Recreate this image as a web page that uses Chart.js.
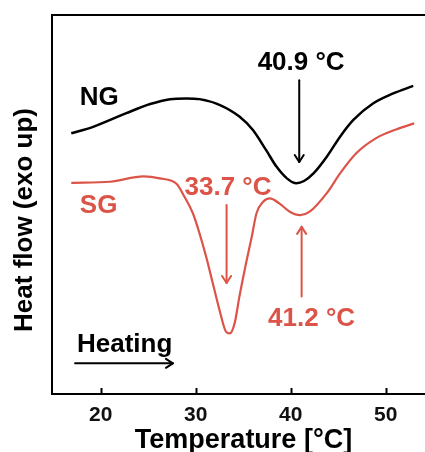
<!DOCTYPE html>
<html>
<head>
<meta charset="utf-8">
<script src="https://cdn.jsdelivr.net/npm/chart.js@4.4.1/dist/chart.umd.min.js"></script>
<style>
  html, body { margin: 0; padding: 0; background: #fff; }
  #wrap { width: 425px; height: 452px; }
</style>
</head>
<body>
<div id="wrap"><canvas id="dsc" width="425" height="452"></canvas></div>
<script>
// DSC heating curves (heat flow in arbitrary units, exo up)
const ngTemp = [16.9, 19.2, 22.7, 25.2, 27.3, 29.0, 30.4, 32.5, 34.6, 36.0, 37.4, 38.5, 39.6, 40.6, 41.4, 42.4, 43.8, 45.2, 46.6, 48.7, 50.8, 52.9];
const ngFlow = [68.8, 70.5, 74.1, 76.5, 77.8, 78.0, 77.8, 76.3, 73.2, 69.7, 64.4, 60.0, 56.9, 55.6, 56.2, 58.2, 62.6, 67.9, 72.3, 76.7, 79.3, 81.3];

const sgTemp = [16.9, 21.0, 24.5, 26.2, 28.0, 28.8, 29.7, 30.4, 31.1, 31.8, 32.5, 33.2, 33.6, 34.1, 34.6, 35.3, 35.9, 36.4, 37.1, 37.8, 38.8, 39.9, 41.0, 42.0, 43.8, 45.2, 46.9, 49.0, 51.1, 53.0];
const sgFlow = [55.7, 56.0, 57.4, 56.9, 55.4, 52.1, 47.7, 42.4, 36.2, 29.2, 22.2, 16.4, 16.0, 18.7, 25.7, 34.5, 41.5, 47.7, 50.7, 51.6, 50.3, 48.1, 47.2, 48.1, 53.0, 58.2, 63.5, 67.5, 69.8, 71.4];

const xTicks = [20, 30, 40, 50];
const seriesNames = ['NG', 'SG'];
const peakLabels = ['40.9 °C', '33.7 °C', '41.2 °C'];

const BLACK = '#000';
const RED = 'rgb(220, 84, 72)';
const FONT = '"Liberation Sans", Arial, Helvetica, sans-serif';

function pts(xs, ys) {
    return xs.map((x, i) => ({ x: x, y: ys[i] }));
}

// text and arrows, placed in data units
const notes = [
    { text: seriesNames[0], x: 17.8, y: 76.3, color: BLACK, align: 'left' },
    { text: seriesNames[1], x: 17.8, y: 47.8, color: RED, align: 'left' },
    { text: peakLabels[0], x: 41.1, y: 85.5, color: BLACK, align: 'center' },
    { text: peakLabels[1], x: 33.4, y: 52.5, color: RED, align: 'center' },
    { text: peakLabels[2], x: 42.2, y: 17.9, color: RED, align: 'center' },
    { text: 'Heating', x: 17.5, y: 11.1, color: BLACK, align: 'left' }
];
const arrows = [
    { x1: 40.9, y1: 82.8, x2: 40.9, y2: 61.2, color: BLACK },
    { x1: 33.25, y1: 49.9, x2: 33.25, y2: 29.3, color: RED },
    { x1: 41.15, y1: 25.7, x2: 41.15, y2: 44.1, color: RED },
    { x1: 17.3, y1: 8.1, x2: 27.6, y2: 8.1, color: BLACK }
];

function drawArrow(ctx, ax, ay, bx, by, color) {
    const ang = Math.atan2(by - ay, bx - ax);
    ctx.save();
    ctx.strokeStyle = color;
    ctx.lineWidth = 2;
    ctx.lineCap = 'round';
    ctx.lineJoin = 'round';
    ctx.beginPath();
    ctx.moveTo(ax, ay);
    ctx.lineTo(bx, by);
    ctx.stroke();
    const len = 7, half = 4.5;
    ctx.beginPath();
    ctx.moveTo(bx - len * Math.cos(ang) + half * Math.sin(ang), by - len * Math.sin(ang) - half * Math.cos(ang));
    ctx.lineTo(bx, by);
    ctx.lineTo(bx - len * Math.cos(ang) - half * Math.sin(ang), by - len * Math.sin(ang) + half * Math.cos(ang));
    ctx.stroke();
    ctx.restore();
}

const decor = {
    id: 'decor',
    afterDraw(chart) {
        const ctx = chart.ctx;
        const area = chart.chartArea;
        const xs = chart.scales.x, ys = chart.scales.y;

        ctx.save();
        // top frame line
        ctx.strokeStyle = BLACK;
        ctx.lineWidth = 2;
        ctx.beginPath();
        ctx.moveTo(area.left - 1, area.top);
        ctx.lineTo(area.right, area.top);
        ctx.stroke();

        // inward tick marks
        xTicks.forEach(v => {
            const px = Math.round(xs.getPixelForValue(v)) + 0.5;
            ctx.beginPath();
            ctx.moveTo(px, area.bottom);
            ctx.lineTo(px, area.bottom - 6);
            ctx.stroke();
        });

        // labels
        ctx.font = 'bold 26px ' + FONT;
        ctx.textBaseline = 'alphabetic';
        notes.forEach(n => {
            ctx.fillStyle = n.color;
            ctx.textAlign = n.align;
            ctx.fillText(n.text, xs.getPixelForValue(n.x), ys.getPixelForValue(n.y));
        });

        arrows.forEach(a => drawArrow(ctx,
            xs.getPixelForValue(a.x1), ys.getPixelForValue(a.y1),
            xs.getPixelForValue(a.x2), ys.getPixelForValue(a.y2), a.color));

        // axis titles
        ctx.fillStyle = BLACK;
        ctx.textAlign = 'center';
        ctx.font = 'bold 27px ' + FONT;
        ctx.fillText('Temperature [°C]', 243.5, 448);
        ctx.font = 'bold 26px ' + FONT;
        ctx.translate(32, 220);
        ctx.rotate(-Math.PI / 2);
        ctx.fillText('Heat flow (exo up)', 0, 0);
        ctx.restore();
    }
};

const chart = new Chart(document.getElementById('dsc').getContext('2d'), {
    type: 'line',
    data: {
        datasets: [{
            label: seriesNames[0],
            data: pts(ngTemp, ngFlow),
            borderColor: BLACK,
            borderWidth: 2.5,
            pointRadius: 0,
            cubicInterpolationMode: 'monotone'
        }, {
            label: seriesNames[1],
            data: pts(sgTemp, sgFlow),
            borderColor: RED,
            borderWidth: 2.2,
            pointRadius: 0,
            cubicInterpolationMode: 'monotone'
        }]
    },
    options: {
        responsive: false,
        animation: false,
        devicePixelRatio: 1,
        layout: { padding: { top: 15, right: 0, bottom: 0, left: 0 } },
        plugins: {
            legend: { display: false },
            tooltip: { enabled: false }
        },
        scales: {
            x: {
                type: 'linear',
                min: 14.87,
                max: 54.14,
                afterBuildTicks: s => { s.ticks = xTicks.map(v => ({ value: v })); },
                afterFit: s => { s.height = 58; },
                grid: { display: false, drawTicks: false },
                border: { display: true, color: BLACK, width: 2 },
                ticks: {
                    color: '#111',
                    padding: 11,
                    maxRotation: 0,
                    font: { family: FONT, size: 21, weight: 'bold', lineHeight: 1 }
                }
            },
            y: {
                min: 0,
                max: 100,
                afterFit: s => { s.width = 52; },
                grid: { display: false, drawTicks: false },
                border: { display: true, color: BLACK, width: 2 },
                ticks: { display: false }
            }
        }
    },
    plugins: [decor]
});
</script>
</body>
</html>
